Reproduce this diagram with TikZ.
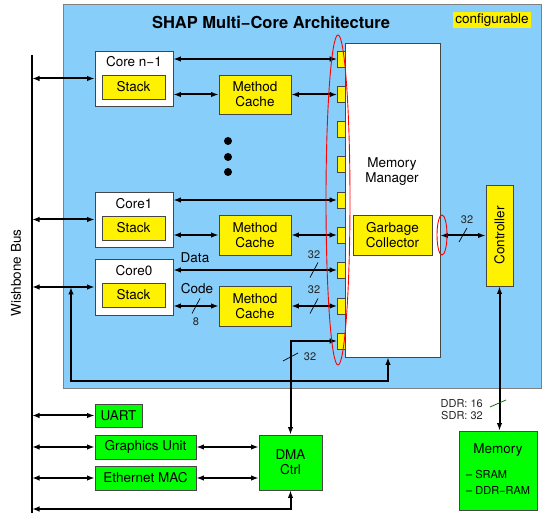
\documentclass[tikz,border=0pt]{standalone}
\usepackage{fontspec}
\setmainfont{TeX Gyre Heros}
\usetikzlibrary{arrows.meta}
\definecolor{skyb}{RGB}{135,206,250}
\definecolor{bord}{RGB}{70,70,70}
\definecolor{ddrg}{RGB}{0,90,0}
\newcommand\fnA{\fontsize{13.5}{15}\selectfont}
\newcommand\fnS{\fontsize{11}{12}\selectfont}
\newcommand\fnM{\fontsize{11}{16}\selectfont}
\newcommand\fnT{\fontsize{16.5}{18}\selectfont\bfseries}
\begin{document}
\begin{tikzpicture}[x=1pt,y=-1pt,
 blk/.style={draw=bord, line width=0.8pt, inner sep=0pt, align=center, font=\fnA},
 ybox/.style={blk, fill=yellow},
 gbox/.style={blk, fill=green},
 wbox/.style={blk, fill=white},
 port/.style={draw=bord, line width=0.6pt, fill=yellow, minimum width=8pt, minimum height=16pt, inner sep=0pt},
 lbl/.style={inner sep=0pt, font=\fnA},
 sml/.style={inner sep=0pt, font=\fnS, text=black!85},
 conn/.style={line width=2pt, {Latex[length=7.5pt,width=5.5pt]}-{Latex[length=7.5pt,width=5.5pt]}},
 tick/.style={line width=0.7pt},
 ring/.style={draw=red, line width=0.9pt}
]
\useasboundingbox (0,0) rectangle (542,513);
% architecture background
\node[draw=gray, line width=0.8pt, fill=skyb, minimum width=478pt, minimum height=384pt, inner sep=0pt] (arch) at (302,196) {};
\node[font=\fnT, inner sep=0pt] (title) at (271,22) {SHAP Multi−Core Architecture};
\node[fill=yellow, font=\fnA, minimum width=78pt, minimum height=16pt, inner sep=0pt] (cfg) at (492,20) {configurable};

% wishbone bus
\coordinate (busT) at (32,55);
\coordinate (busB) at (32,513);
\draw[line width=2.5pt] (busT) -- (busB);
\node[rotate=90, font=\fnA, inner sep=0pt] (wbl) at (16,273) {Wishbone Bus};

% cores
\node[wbox, minimum width=78pt, minimum height=55pt] (coreN) at (134,78.5) {};
\node[lbl] (coreNl) at (134,62) {Core n−1};
\node[ybox, minimum width=63pt, minimum height=24pt] (stackN) at (133.5,87) {Stack};
\node[wbox, minimum width=78pt, minimum height=55pt] (core1) at (134,219.5) {};
\node[lbl] (core1l) at (134,204) {Core1};
\node[ybox, minimum width=63pt, minimum height=24pt] (stack1) at (133.5,228) {Stack};
\node[wbox, minimum width=78pt, minimum height=56pt] (core0) at (134,287) {};
\node[lbl] (core0l) at (134,271) {Core0};
\node[ybox, minimum width=63pt, minimum height=24pt] (stack0) at (133.5,295) {Stack};

% method caches
\node[ybox, minimum width=72pt, minimum height=39pt] (mcN) at (255,94.5) {Method\\Cache};
\node[ybox, minimum width=72pt, minimum height=40pt] (mc1) at (255,235) {Method\\Cache};
\node[ybox, minimum width=72pt, minimum height=40pt] (mc0) at (255,306) {Method\\Cache};

% dots
\fill (228,141) circle (4pt);
\fill (228,157) circle (4pt);
\fill (228,172) circle (4pt);

% memory manager
\node[wbox, minimum width=95pt, minimum height=314pt] (mm) at (392.5,200) {};
\node[lbl, align=center] (mml) at (392,172) {Memory\\Manager};
\node[ybox, minimum width=79pt, minimum height=40pt] (gc) at (392.5,235) {Garbage\\Collector};

% ports
\node[port] (p1) at (341.5,59) {};
\node[port] (p2) at (341.5,94.5) {};
\node[port] (p3) at (341.5,129.5) {};
\node[port] (p4) at (341.5,164.5) {};
\node[port] (p5) at (341.5,200) {};
\node[port] (p6) at (341.5,235) {};
\node[port] (p7) at (341.5,270) {};
\node[port] (p8) at (341.5,306) {};
\node[port] (p9) at (341.5,341) {};

% controller and memory
\node[ybox, minimum width=27pt, minimum height=101pt] (ctrl) at (499.5,235.5) {};
\node[lbl, rotate=90] (ctrll) at (499.5,235.5) {Controller};
\node[gbox, minimum width=78pt, minimum height=79pt] (mem) at (498,470.5) {};
\node[lbl] (meml) at (498,450) {Memory};
\node[inner sep=0pt, font=\fnM, align=left, anchor=west] (memt) at (466,482) {– SRAM\\– DDR−RAM};

% peripherals
\node[gbox, minimum width=47pt, minimum height=23pt] (uart) at (118.5,415.5) {UART};
\node[gbox, minimum width=101pt, minimum height=24pt] (gu) at (145.5,447) {Graphics Unit};
\node[gbox, minimum width=101pt, minimum height=24pt] (em) at (145.5,478) {Ethernet MAC};
\node[gbox, minimum width=63pt, minimum height=55pt] (dma) at (290.5,462.5) {DMA\\Ctrl};

% bus connections
\draw[conn] (busT |- coreN.west) -- (coreN.west);
\draw[conn] (busT |- core1.west) -- (core1.west);
\draw[conn] (busT |- core0.west) -- (core0.west);
\draw[conn] (busT |- uart.west) -- (uart.west);
\draw[conn] (busT |- gu.west) -- (gu.west);
\draw[conn] (busT |- em.west) -- (em.west);

% core to memory manager
\draw[conn] (coreN.east |- p1.west) -- (p1.west);
\draw[conn] (coreN.east |- mcN.west) -- (mcN.west);
\draw[conn] (mcN.east) -- (mcN.east -| p2.west);
\draw[conn] (core1.east |- p5.west) -- (p5.west);
\draw[conn] (core1.east |- mc1.west) -- (mc1.west);
\draw[conn] (mc1.east) -- (mc1.east -| p6.west);
\draw[conn] (core0.east |- p7.west) -- (p7.west);
\draw[conn] (core0.east |- mc0.west) -- (mc0.west);
\draw[conn] (mc0.east) -- (mc0.east -| p8.west);
\node[lbl] (datal) at (195,258) {Data};
\node[lbl] (codel) at (197,289) {Code};

% loop from memory manager to core0 bus line
\coordinate (loopL) at (71,381);
\coordinate (loopR) at (388,381);
\draw[conn] (loopL |- core0.west) -- (loopL) -- (loopR) -- (loopR |- mm.south);

% DMA
\draw[conn] (p9.west) -| (dma.north);
\draw[conn] (gu.east) -- (gu.east -| dma.west);
\draw[conn] (em.east) -- (em.east -| dma.west);
\coordinate (busD) at (32,509);
\draw[conn] (dma.south) |- (busD);

% controller
\draw[conn] (mm.east |- ctrl.west) -- (ctrl.west);
\draw[conn] (ctrl.south) -- (ctrl.south |- mem.north);

% width ticks
\draw[tick] (192,313.5) -- (200,298.5);
\node[sml] (w8) at (196,322) {8};
\draw[tick] (310,277.5) -- (318,262.5);
\node[sml] (w32a) at (314,255) {32};
\draw[tick] (310,313.5) -- (318,298.5);
\node[sml] (w32b) at (314,290) {32};
\draw[tick] (459,242) -- (467,228);
\node[sml] (w32c) at (467,220) {32};
\draw[tick] (283,361) -- (298,353);
\node[sml] (w32d) at (310,357) {32};
\draw[tick, ddrg] (490,407) -- (506,400);
\node[sml, align=right, anchor=east] (ddr) at (483,410) {DDR: 16\\SDR: 32};

% red rings
\draw[ring] (338,200) ellipse (12pt and 165pt);
\draw[ring] (442,235) ellipse (5pt and 20pt);
\end{tikzpicture}
\end{document}
